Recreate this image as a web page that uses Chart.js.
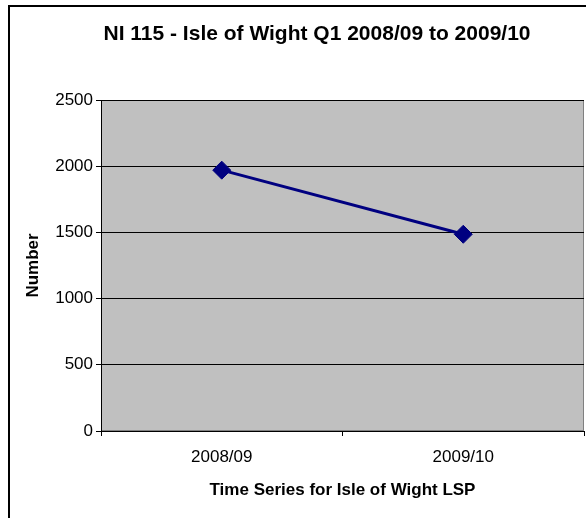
<!DOCTYPE html>
<html>
<head>
<meta charset="utf-8">
<title>NI 115 - Isle of Wight Q1 2008/09 to 2009/10</title>
<script src="https://cdn.jsdelivr.net/npm/chart.js@4/dist/chart.umd.min.js"></script>
<style>
  html, body { margin: 0; padding: 0; background: #ffffff; }
  #wrap { width: 586px; height: 518px; }
</style>
</head>
<body>
<div id="wrap"><canvas id="chart" width="586" height="518"></canvas></div>
<script>
// Figures for the indicator, one value per reporting year
const periods = ['2008/09', '2009/10'];
const numbers = [1970, 1486];
const yTicks = [0, 500, 1000, 1500, 2000, 2500];

const FONT = '"Liberation Sans", Arial, Helvetica, sans-serif';

// Grey plot background, plot frame and outer chart frame
const framePlugin = {
  id: 'frames',
  beforeDraw(chart) {
    const { ctx, chartArea: a } = chart;
    ctx.save();
    ctx.fillStyle = '#ffffff';
    ctx.fillRect(0, 0, chart.width, chart.height);
    ctx.strokeStyle = '#000000';
    ctx.lineWidth = 2;
    ctx.strokeRect(9, 6, chart.width + 20, chart.height + 20);
    ctx.fillStyle = '#c0c0c0';
    ctx.fillRect(a.left, a.top, a.right - a.left, a.bottom - a.top);
    ctx.strokeStyle = '#808080';
    ctx.lineWidth = 1;
    ctx.strokeRect(a.left + 0.5, a.top + 0.5, a.right - a.left - 1, a.bottom - a.top - 1);
    ctx.restore();
  }
};

new Chart(document.getElementById('chart'), {
  type: 'line',
  data: {
    labels: periods,
    datasets: [{
      label: 'Number',
      data: numbers,
      borderColor: '#000080',
      backgroundColor: '#000080',
      borderWidth: 3,
      pointStyle: 'rectRot',
      pointRadius: 9,
      pointBorderWidth: 1,
      pointBackgroundColor: '#000080',
      pointBorderColor: '#000080',
      tension: 0,
      fill: false
    }]
  },
  options: {
    responsive: false,
    animation: false,
    events: [],
    layout: { autoPadding: false, padding: { left: 50, right: 2, top: 0, bottom: 0 } },
    plugins: {
      legend: { display: false },
      tooltip: { enabled: false },
      title: {
        display: true,
        text: 'NI 115 - Isle of Wight Q1 2008/09 to 2009/10',
        color: '#000000',
        font: { family: FONT, size: 21, weight: 'bold', lineHeight: 1.2 },
        padding: { top: 22, bottom: 52.8 }
      }
    },
    scales: {
      x: {
        type: 'category',
        offset: true,
        afterFit(scale) {
          scale.height = 87;
          scale.paddingLeft = 0;
          scale.paddingRight = 0;
        },
        grid: {
          offset: true,
          drawOnChartArea: false,
          drawTicks: true,
          tickLength: 5,
          color: '#000000',
          tickColor: '#000000'
        },
        border: { display: true, color: '#000000', width: 1 },
        ticks: {
          color: '#000000',
          font: { family: FONT, size: 17 },
          padding: 11,
          maxRotation: 0
        },
        title: {
          display: true,
          text: 'Time Series for Isle of Wight LSP',
          color: '#000000',
          font: { family: FONT, size: 17, weight: 'bold', lineHeight: 1.2 },
          padding: { top: 0, bottom: 17 }
        }
      },
      y: {
        min: 0,
        max: 2500,
        afterFit(scale) { scale.width = 51; },
        afterBuildTicks(scale) { scale.ticks = yTicks.map(v => ({ value: v })); },
        grid: {
          color: '#000000',
          tickColor: '#000000',
          lineWidth: 1,
          drawTicks: true,
          tickLength: 5
        },
        border: { display: true, color: '#000000', width: 1 },
        ticks: {
          color: '#000000',
          font: { family: FONT, size: 17 },
          padding: 3,
          callback: (v) => String(v)
        },
        title: {
          display: true,
          text: 'Number',
          color: '#000000',
          font: { family: FONT, size: 17, weight: 'bold', lineHeight: 1.2 },
          padding: { top: -27, bottom: 0 }
        }
      }
    }
  },
  plugins: [framePlugin]
});
</script>
</body>
</html>
